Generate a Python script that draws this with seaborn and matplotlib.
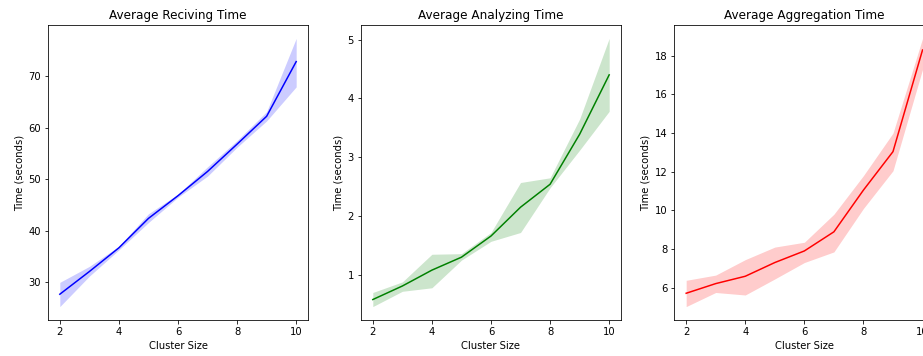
import matplotlib
matplotlib.use("Agg")
import matplotlib.pyplot as plt
import pandas as pd
import seaborn as sns

cluster_sizes = [2, 3, 4, 5, 6, 7, 8, 9, 10]

# mean and band (low / high) per cluster size
receiving_mean = [27.7, 32.1, 36.7, 42.4, 46.8, 51.5, 56.8, 62.2, 72.8]
receiving_low = [25.3, 31.2, 36.3, 41.6, 46.5, 50.6, 56.2, 61.3, 67.9]
receiving_high = [30.0, 33.1, 37.0, 43.3, 47.1, 52.4, 57.5, 63.1, 77.3]

analyzing_mean = [0.58, 0.81, 1.08, 1.30, 1.66, 2.15, 2.54, 3.39, 4.40]
analyzing_low = [0.46, 0.72, 0.78, 1.25, 1.57, 1.72, 2.48, 3.12, 3.78]
analyzing_high = [0.70, 0.88, 1.35, 1.36, 1.72, 2.57, 2.65, 3.65, 5.02]

aggregation_mean = [5.71, 6.21, 6.59, 7.30, 7.90, 8.89, 11.05, 13.04, 18.3]
aggregation_low = [5.02, 5.75, 5.62, 6.45, 7.30, 7.85, 10.1, 12.05, 17.3]
aggregation_high = [6.38, 6.65, 7.45, 8.10, 8.35, 9.80, 11.8, 14.0, 18.9]

panels = [
    ("Average Reciving Time", receiving_mean, receiving_low, receiving_high, "blue"),
    ("Average Analyzing Time", analyzing_mean, analyzing_low, analyzing_high, "green"),
    ("Average Aggregation Time", aggregation_mean, aggregation_low, aggregation_high, "red"),
]

fig = plt.figure(figsize=(923 / 72, 356 / 72), dpi=72)
lefts = [0.052, 0.3911, 0.7306]

for left, (title, mean, low, high, color) in zip(lefts, panels):
    ax = fig.add_axes([left, 0.1011, 0.2817, 0.8287])
    df = pd.DataFrame({"size": cluster_sizes, "mean": mean, "low": low, "high": high})
    sns.lineplot(data=df, x="size", y="mean", color=color, linewidth=1.5, ax=ax)
    ax.fill_between(df["size"], df["low"], df["high"], color=color, alpha=0.2, linewidth=0)
    ax.set_title(title)
    ax.set_xlabel("Cluster Size")
    ax.set_ylabel("Time (seconds)")
    ax.set_xticks([2, 4, 6, 8, 10])

fig.savefig("out.png", dpi=72)
